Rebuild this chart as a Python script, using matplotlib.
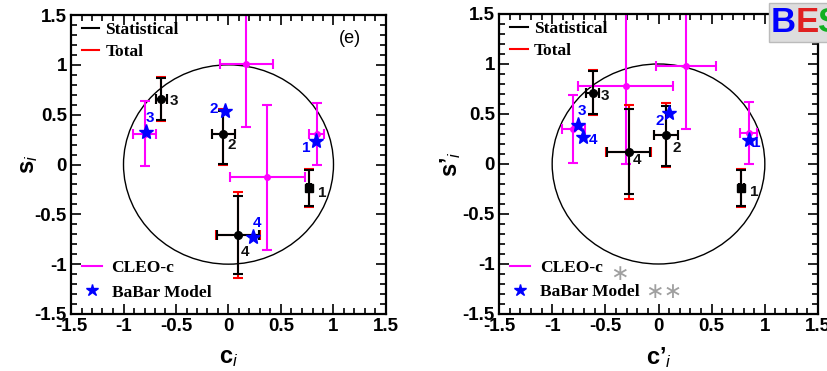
import numpy as np
import matplotlib
matplotlib.use("Agg")
import matplotlib.pyplot as plt
from matplotlib.lines import Line2D
from matplotlib.patches import Circle, FancyBboxPatch
from matplotlib.ticker import MultipleLocator

plt.rcParams['font.family'] = 'Liberation Sans'
plt.rcParams['mathtext.fontset'] = 'custom'
plt.rcParams['mathtext.rm'] = 'Liberation Sans:bold'
plt.rcParams['mathtext.bf'] = 'Liberation Sans:bold'
plt.rcParams['mathtext.it'] = 'Liberation Sans:italic'

bins = ['1', '2', '3', '4']

# --- BESIII results, (c_i, s_i) ---
c_bes = [0.77, -0.05, -0.64, 0.09]
s_bes = [-0.24, 0.31, 0.66, -0.71]
c_stat = [0.02, 0.11, 0.05, 0.20]
c_tot = [0.02, 0.11, 0.05, 0.21]
s_stat_lo = [0.18, 0.30, 0.21, 0.39]
s_stat_hi = [0.18, 0.23, 0.21, 0.39]
s_tot_lo = [0.19, 0.31, 0.22, 0.43]
s_tot_hi = [0.19, 0.25, 0.22, 0.43]

# --- BESIII results, (c'_i, s'_i) ---
cp_bes = [0.78, 0.07, -0.62, -0.28]
sp_bes = [-0.24, 0.29, 0.71, 0.12]
cp_stat = [0.02, 0.11, 0.06, 0.20]
cp_tot = [0.02, 0.11, 0.06, 0.21]
sp_stat_lo = [0.18, 0.31, 0.21, 0.42]
sp_stat_hi = [0.18, 0.29, 0.22, 0.43]
sp_tot_lo = [0.19, 0.32, 0.22, 0.47]
sp_tot_hi = [0.19, 0.32, 0.23, 0.47]

# --- CLEO-c ---
c_cleo = [0.84, 0.17, -0.80, 0.37]
s_cleo = [0.31, 1.01, 0.31, -0.13]
c_cleo_err = [0.07, 0.25, 0.105, 0.36]
s_cleo_err = [0.31, 0.63, 0.33, 0.73]

cp_cleo = [0.85, 0.26, -0.80, -0.31]
sp_cleo = [0.31, 0.98, 0.35, 0.78]
cp_cleo_err = [0.08, 0.28, 0.11, 0.45]
sp_cleo_err = [0.31, 0.63, 0.34, 0.78]

# --- BaBar model predictions ---
c_babar = [0.83, -0.03, -0.79, 0.23]
s_babar = [0.24, 0.54, 0.33, -0.73]
cp_babar = [0.85, 0.10, -0.76, -0.71]
sp_babar = [0.24, 0.51, 0.39, 0.27]

MAG = '#ff00ff'
BLUE = '#0000ff'
bes_markers = ['s', 'o', 'o', 'o']

fig = plt.figure(figsize=(8.27, 3.71), dpi=100)
W, H = 827, 371
ax1 = fig.add_axes([71 / W, 1 - 314 / H, 315 / W, 299 / H])
ax2 = fig.add_axes([499 / W, 1 - 314 / H, 319 / W, 300 / H])


def draw_panel(ax, c, s, cst, ctot, sst_lo, sst_hi, stot_lo, stot_hi,
               cc, sc, cc_err, sc_err, cb, sb, blk_off, blu_off):
    ax.add_patch(Circle((0, 0), 1.0, fill=False, ec='black', lw=1.0, zorder=1))
    # CLEO-c
    ax.errorbar(cc, sc, xerr=cc_err, yerr=sc_err, fmt='o', ms=4, color=MAG,
                ecolor=MAG, elinewidth=1.5, capsize=3.5, capthick=1.5, zorder=2)
    # total (red) under statistical (black)
    ax.errorbar(c, s, xerr=ctot, yerr=[stot_lo, stot_hi], fmt='none',
                ecolor='red', elinewidth=1.5, capsize=3.5, capthick=1.5, zorder=3)
    ax.errorbar(c, s, xerr=cst, yerr=[sst_lo, sst_hi], fmt='none',
                ecolor='black', elinewidth=1.5, capsize=3.5, capthick=1.5, zorder=4)
    for x, y, m in zip(c, s, bes_markers):
        ax.plot(x, y, marker=m, ms=5.5, color='black', ls='none', zorder=5)
    ax.plot(cb, sb, marker='*', ms=11, color=BLUE, ls='none', zorder=6)

    for x, y, lab, off in zip(c, s, bins, blk_off):
        ax.annotate(lab, (x, y), xytext=off, textcoords='offset points',
                    ha='center', va='center', fontsize=11, fontweight='bold',
                    color='#111111', zorder=7)
    for x, y, lab, off in zip(cb, sb, bins, blu_off):
        ax.annotate(lab, (x, y), xytext=off, textcoords='offset points',
                    ha='center', va='center', fontsize=11, fontweight='bold',
                    color=BLUE, zorder=7)

    ax.set_xlim(-1.5, 1.5)
    ax.set_ylim(-1.5, 1.5)
    ax.xaxis.set_major_locator(MultipleLocator(0.5))
    ax.yaxis.set_major_locator(MultipleLocator(0.5))
    ax.xaxis.set_minor_locator(MultipleLocator(0.1))
    ax.yaxis.set_minor_locator(MultipleLocator(0.1))
    ax.tick_params(which='both', direction='in', top=True, right=True, width=1.2)
    ax.tick_params(which='major', length=7, labelsize=13.5, pad=3)
    ax.tick_params(which='minor', length=4)
    ax.xaxis.set_major_formatter(plt.FuncFormatter(lambda v, p: f'{v:g}'))
    ax.yaxis.set_major_formatter(plt.FuncFormatter(lambda v, p: f'{v:g}'))
    for lab in ax.get_xticklabels() + ax.get_yticklabels():
        lab.set_fontweight('bold')
    for sp in ax.spines.values():
        sp.set_linewidth(1.6)

    serif = {'family': 'Liberation Serif', 'weight': 'bold', 'size': 12.5}
    top = ax.legend(handles=[Line2D([], [], color='black', lw=1.5),
                             Line2D([], [], color='red', lw=1.5)],
                    labels=['Statistical', 'Total'], prop=serif,
                    loc='upper left', bbox_to_anchor=(0.035, 0.978),
                    frameon=False, borderpad=0, borderaxespad=0,
                    handlelength=1.0, handletextpad=0.35, labelspacing=0.37)
    ax.add_artist(top)
    ax.legend(handles=[Line2D([], [], color=MAG, lw=1.5),
                       Line2D([], [], color=BLUE, marker='*', ms=9, ls='none')],
              labels=['CLEO-c', 'BaBar Model'], prop=serif,
              loc='lower left', bbox_to_anchor=(0.035, 0.045),
              frameon=False, borderpad=0, borderaxespad=0,
              handlelength=1.15, handletextpad=0.55, labelspacing=0.5)


draw_panel(ax1, c_bes, s_bes, c_stat, c_tot, s_stat_lo, s_stat_hi, s_tot_lo, s_tot_hi,
           c_cleo, s_cleo, c_cleo_err, s_cleo_err, c_babar, s_babar,
           blk_off=[(9, -3), (6, -8), (9, -2), (5, -12)],
           blu_off=[(-7, -5), (-8, 1), (3, 10), (3, 10)])
draw_panel(ax2, cp_bes, sp_bes, cp_stat, cp_tot, sp_stat_lo, sp_stat_hi, sp_tot_lo, sp_tot_hi,
           cp_cleo, sp_cleo, cp_cleo_err, sp_cleo_err, cp_babar, sp_babar,
           blk_off=[(9, -3), (8, -9), (9, -2), (6, -6)],
           blu_off=[(5, -2), (-7, -6), (3, 10), (7, -2)])

ax1.set_xlabel(r'$\mathbf{c}_{i}$', fontsize=17)
ax1.set_ylabel(r'$\mathbf{s}_{i}$', fontsize=17)
ax1.xaxis.set_label_coords(0.5, -0.112)
ax1.yaxis.set_label_coords(-0.10, 0.5)
ax2.set_xlabel('c\u2019$_{i}$', fontsize=17, fontweight='bold')
ax2.set_ylabel('s\u2019$_{i}$', fontsize=17, fontweight='bold')
ax2.xaxis.set_label_coords(0.5, -0.105)
ax2.yaxis.set_label_coords(-0.113, 0.5)

ax1.text(0.885, 0.92, '(e)', transform=ax1.transAxes, fontsize=13,
         ha='center', va='center')

# gray stars after the lower legend entries of the right panel
ax2.text((619 - 499) / 319, (314 - 274) / 300, '\u2217', transform=ax2.transAxes,
         fontsize=16, color='#a0a0a0', ha='center', va='center', family='DejaVu Sans')
ax2.text((664 - 499) / 319, (314 - 292) / 300, '\u2217\u2217', transform=ax2.transAxes,
         fontsize=16, color='#a0a0a0', ha='center', va='center', family='DejaVu Sans')

# BESIII logo in the corner
fig.patches.append(FancyBboxPatch((769 / W, 1 - 42 / H), 70 / W, 39 / H,
                                  boxstyle='square,pad=0', transform=fig.transFigure,
                                  fc='#dddddd', ec='#bbbbbb', lw=1, zorder=10))
for ch, x, col in [('B', 771, BLUE), ('E', 796, '#e02020'), ('S', 818, '#10b020')]:
    fig.text(x / W, 1 - 22 / H, ch, fontsize=25, fontweight='bold', color=col,
             ha='left', va='center', zorder=11)

fig.savefig('out.png', dpi=100)
